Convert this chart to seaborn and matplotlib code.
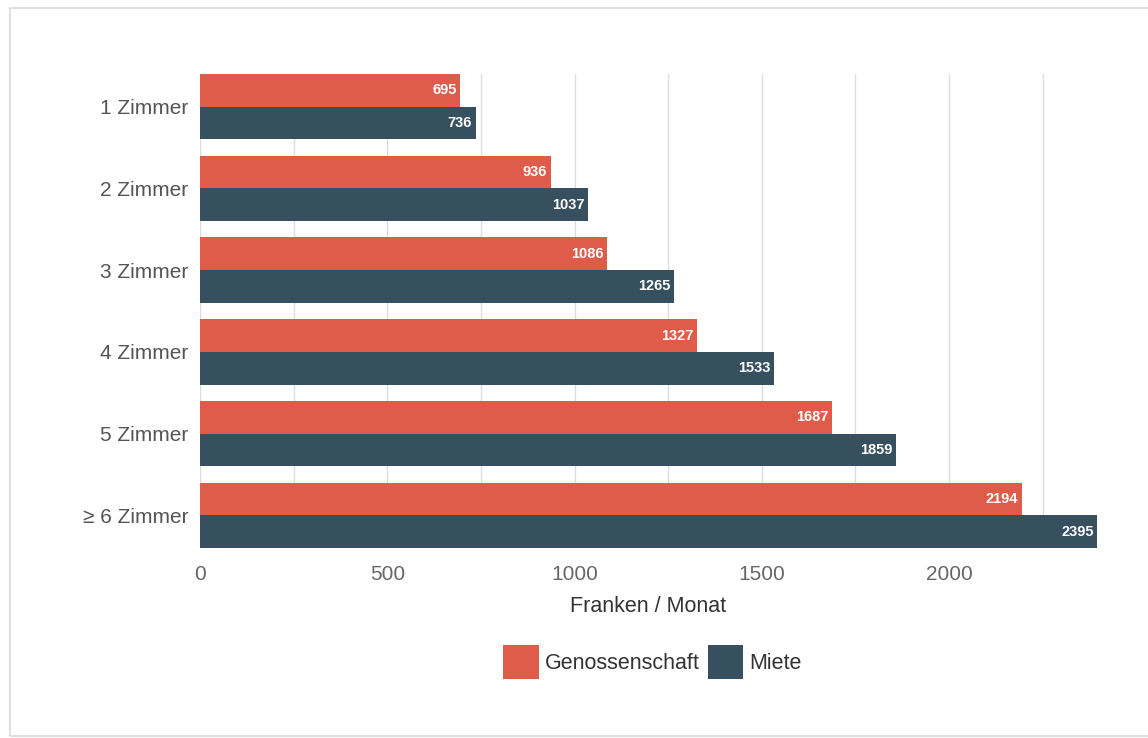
import matplotlib
matplotlib.use("Agg")
import matplotlib.pyplot as plt
import seaborn as sns
import pandas as pd
from matplotlib.patches import Rectangle
from matplotlib.ticker import MultipleLocator

categories = ["1 Zimmer", "2 Zimmer", "3 Zimmer", "4 Zimmer", "5 Zimmer", "≥ 6 Zimmer"]
series_names = ["Genossenschaft", "Miete"]
genossenschaft = [695, 936, 1086, 1327, 1687, 2194]
miete = [736, 1037, 1265, 1533, 1859, 2395]
x_ticks = [0, 500, 1000, 1500, 2000]
colors = ["#E05C4A", "#36505F"]

df = pd.DataFrame({
    "Zimmer": categories * 2,
    "Serie": [series_names[0]] * len(categories) + [series_names[1]] * len(categories),
    "Wert": genossenschaft + miete,
})

sns.set_theme(style="white")
plt.rcParams["font.family"] = ["Liberation Sans", "DejaVu Sans"]

fig = plt.figure(figsize=(11.48, 7.38), dpi=100)
fig.patch.set_facecolor("white")
ax = fig.add_axes([200 / 1148, 1 - 548 / 738, (1097 - 200) / 1148, (548 - 74) / 738])

sns.barplot(data=df, y="Zimmer", x="Wert", hue="Serie", order=categories,
            hue_order=series_names, palette=colors, orient="h", width=0.8,
            saturation=1, ax=ax, legend=False, edgecolor="none", linewidth=0, zorder=3)

ax.set_xlim(0, max(miete))
ax.set_ylim(len(categories) - 0.6, -0.4)
ax.xaxis.set_major_locator(MultipleLocator(500))
ax.xaxis.set_minor_locator(MultipleLocator(250))
ax.set_xticks(x_ticks)
ax.grid(axis="x", which="both", color="#DDDDDD", linewidth=1.0, zorder=0)
ax.grid(axis="y", visible=False)
for s in ax.spines.values():
    s.set_visible(False)
ax.tick_params(axis="x", which="both", length=0, labelsize=15, labelcolor="#666666", pad=12)
ax.tick_params(axis="y", length=0, labelsize=15, labelcolor="#555555", pad=8.5)
ax.set_ylabel("")
ax.set_xlabel("Franken / Monat", fontsize=15.5, color="#333333", labelpad=9)

for cont in ax.containers:
    for bar, v in zip(cont.patches, cont.datavalues):
        y = bar.get_y() + bar.get_height() / 2
        ax.annotate(f"{int(v)}", xy=(bar.get_width(), y), xytext=(-2.5, 0),
                    textcoords="offset points", ha="right", va="center",
                    color="white", fontsize=10.5, fontweight="bold", zorder=5)

handles = [Rectangle((0, 0), 1, 1, facecolor=c, edgecolor="none") for c in colors]
fig.legend(handles, series_names, loc="center", bbox_to_anchor=(652.5 / 1148, 1 - 662 / 738),
           ncol=2, frameon=False, fontsize=15.5, handlelength=1.65, handleheight=2.1,
           handletextpad=0.3, columnspacing=0.35, labelcolor="#333333")

# screenshot frame
fig.add_artist(Rectangle((10 / 1148, 1 - 736 / 738), 1.2, (736 - 8) / 738,
                         transform=fig.transFigure, fill=False, edgecolor="#D8D8D8",
                         linewidth=1.2))

fig.savefig("out.png", dpi=100, facecolor="white")
